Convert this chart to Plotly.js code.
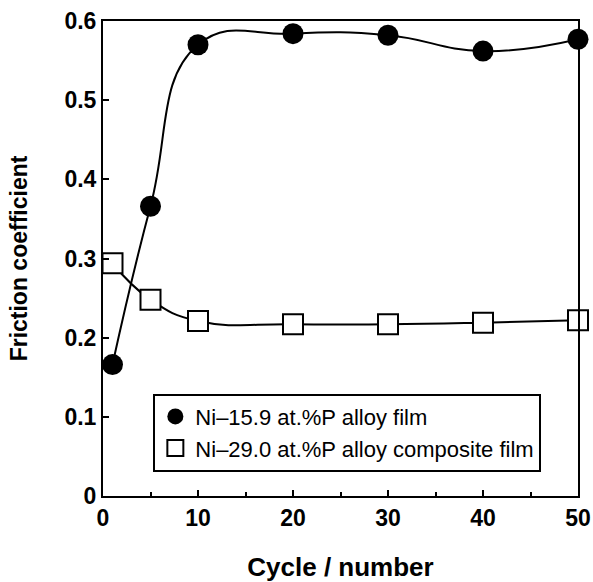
<!DOCTYPE html>
<html>
<head>
<meta charset="utf-8">
<script src="https://cdn.plot.ly/plotly-3.0.1.min.js"></script>
<style>html,body{margin:0;padding:0;background:#fff;}#chart{width:593px;height:582px;}</style>
</head>
<body>
<div id="chart"></div>
<script>
const cycles = [1, 5, 10, 20, 30, 40, 50];
const alloyFilm = [0.166, 0.366, 0.570, 0.584, 0.582, 0.562, 0.577];
const compositeFilm = [0.294, 0.248, 0.221, 0.217, 0.217, 0.219, 0.222];
const seriesNames = ["Ni\u201315.9 at.%P alloy film", "Ni\u201329.0 at.%P alloy composite film"];

const FONT = "Liberation Sans, Arial, Helvetica, sans-serif";

const traces = [
  {x: cycles, y: alloyFilm, mode: "lines", line: {shape: "spline", smoothing: 1.3, color: "#000", width: 2}, showlegend: false, hoverinfo: "skip"},
  {x: cycles, y: compositeFilm, mode: "lines", line: {shape: "spline", smoothing: 1.3, color: "#000", width: 2}, showlegend: false, hoverinfo: "skip"},
  {x: cycles, y: alloyFilm, mode: "markers", name: seriesNames[0], cliponaxis: false,
   marker: {symbol: "circle", size: 21, color: "#000", line: {color: "#000", width: 0}}},
  {x: cycles, y: compositeFilm, mode: "markers", name: seriesNames[1], cliponaxis: false,
   marker: {symbol: "square", size: 20, color: "#fff", line: {color: "#000", width: 2}}}
];

const axisCommon = {
  showline: true, linecolor: "#000", linewidth: 2, mirror: true,
  ticks: "inside", ticklen: 6, tickwidth: 2, tickcolor: "#000",
  showgrid: false, zeroline: false,
  tickfont: {family: FONT, size: 23, color: "#000", weight: "bold"}
};

const layout = {
  width: 593, height: 582,
  margin: {l: 103, r: 15, t: 21, b: 85.5},
  paper_bgcolor: "#fff", plot_bgcolor: "#fff",
  showlegend: true,
  xaxis: Object.assign({}, axisCommon, {
    range: [0, 50], tickmode: "linear", tick0: 0, dtick: 10,
    minor: {dtick: 5, ticks: "inside", ticklen: 4, tickwidth: 2, tickcolor: "#000", showgrid: false},
    ticklabelstandoff: 0,
    title: {text: "Cycle / number", font: {family: FONT, size: 26, color: "#000", weight: "bold"}, standoff: 33}
  }),
  yaxis: Object.assign({}, axisCommon, {
    range: [0, 0.6], tickmode: "linear", tick0: 0, dtick: 0.1,
    ticklabelstandoff: 0,
    title: {text: "Friction coefficient", font: {family: FONT, size: 23, color: "#000", weight: "bold"}, standoff: 30}
  }),
  legend: {
    x: 0.106, y: 0.2156, xanchor: "left", yanchor: "top",
    bgcolor: "#fff", bordercolor: "#000", borderwidth: 2,
    font: {family: FONT, size: 22, color: "#000"},
    itemsizing: "trace", tracegroupgap: 0
  }
};

Plotly.newPlot("chart", traces, layout, {displayModeBar: false, staticPlot: true});
</script>
</body>
</html>
